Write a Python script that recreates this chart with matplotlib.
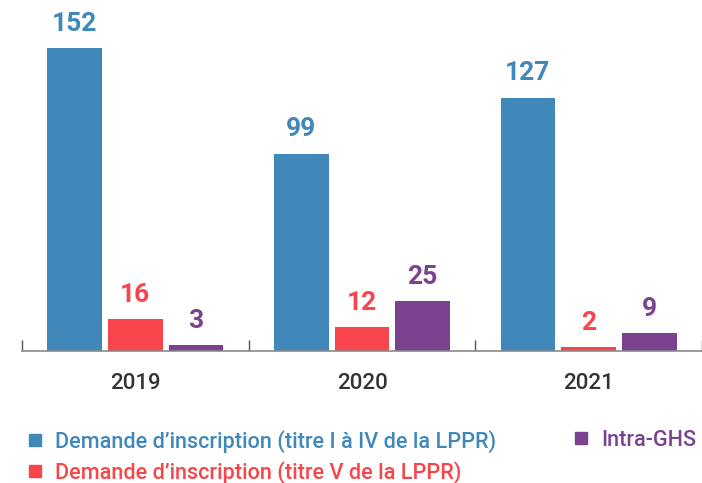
import matplotlib
matplotlib.use("Agg")
import matplotlib.pyplot as plt
from matplotlib.lines import Line2D
import numpy as np

plt.rcParams['font.family'] = ['Roboto', 'DejaVu Sans']

years = ["2019", "2020", "2021"]
series_names = ["Demande d\u2019inscription (titre I à IV de la LPPR)",
                "Demande d\u2019inscription (titre V de la LPPR)",
                "Intra-GHS"]
titre_I_IV = [152, 99, 127]
titre_V = [16, 12, 2]
intra_ghs = [3, 25, 9]
colors = ["#4087BA", "#F8454C", "#7B4290"]

W, H = 702, 483
fig = plt.figure(figsize=(W/100, H/100), dpi=100)
ax = fig.add_axes([22/W, (H-351)/H, 680/W, 351/H])

x = np.arange(len(years))
offsets = [-0.268, 0.0, 0.268]
width = 0.241
for vals, off, col in zip([titre_I_IV, titre_V, intra_ghs], offsets, colors):
    bars = ax.bar(x + off, vals, width=width, color=col, zorder=2)
    for b, v in zip(bars, vals):
        ax.annotate(str(v), (b.get_x() + b.get_width()/2, b.get_height()),
                    xytext=(0, 9), textcoords='offset points',
                    ha='center', va='bottom', fontsize=19, fontweight='bold',
                    color=col)

ax.set_xlim(-0.5, -0.5 + 680/228)
ax.set_ylim(0, 351/1.993)
for s in ['top', 'right', 'left']:
    ax.spines[s].set_visible(False)
ax.spines['bottom'].set_color('#8a8a8a')
ax.spines['bottom'].set_linewidth(1.2)
ax.set_yticks([])
ax.set_xticks([-0.5, 0.5, 1.5, 2.5])
ax.set_xticklabels([])
ax.tick_params(axis='x', direction='in', length=8, color='#555555', width=1)
ax.set_xticks(x, minor=True)
ax.set_xticklabels(years, minor=True, fontsize=16, color='#333333', fontweight='medium')
ax.tick_params(axis='x', which='minor', length=0, pad=16)

handles = [Line2D([], [], marker='s', linestyle='none', markersize=8.6,
                  markerfacecolor=c, markeredgecolor=c) for c in colors]
prop = {'family': ['Roboto', 'DejaVu Sans'], 'weight': 'medium', 'size': 15.6}
common = dict(loc='upper left', frameon=False, handlelength=0.58,
              handletextpad=0.62, labelspacing=0.38, borderpad=0,
              borderaxespad=0, prop=prop)
leg1 = fig.legend(handles[:2], series_names[:2],
                  bbox_to_anchor=(29/W, (H-430)/H), **common)
for t, c in zip(leg1.get_texts(), colors[:2]):
    t.set_color(c)
leg2 = fig.legend(handles[2:], series_names[2:],
                  bbox_to_anchor=(575/W, (H-430)/H), **common)
for t, c in zip(leg2.get_texts(), colors[2:]):
    t.set_color(c)

fig.savefig("out.png", dpi=100)
